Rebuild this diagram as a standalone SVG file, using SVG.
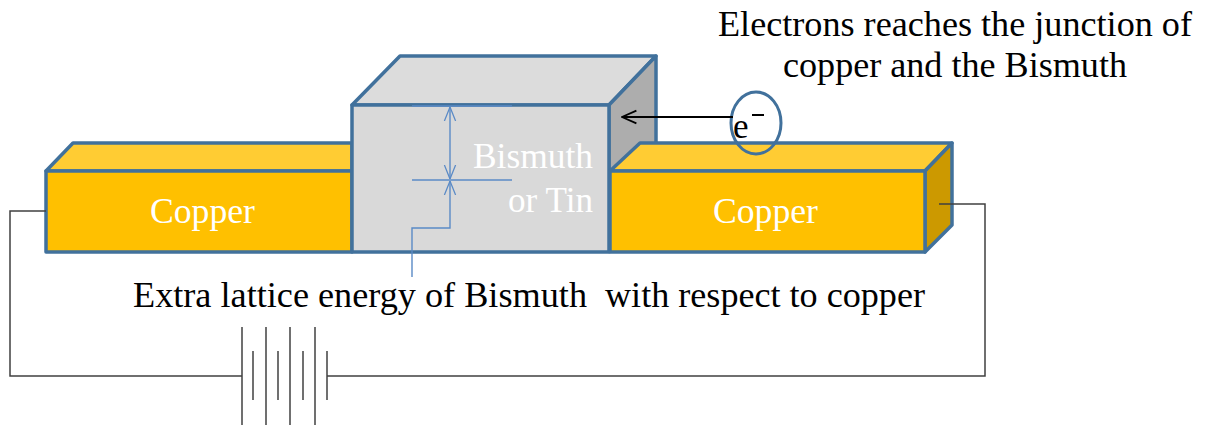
<svg xmlns="http://www.w3.org/2000/svg" width="1216" height="428" viewBox="0 0 1216 428">
<style>
.blk{stroke:#41719C;stroke-width:3.5;stroke-linejoin:round}
.cuF{fill:#FFC000}.cuT{fill:#FFCC33}.cuS{fill:#CC9900}
.biF{fill:#D9D9D9}.biT{fill:#DCDCDC}.biS{fill:#ADADAD}
.wire{fill:none;stroke:#404040;stroke-width:1.5}
.dim{fill:none;stroke:#5A8AC6;stroke-width:1.4}
.t{font-family:"Liberation Serif","Noto Serif","DejaVu Serif",Tinos,"Nimbus Roman","FreeSerif",Times,serif;font-size:35px}
.w{fill:#FFFFFF}
.k{fill:#000000}
</style>
<defs>
<marker id="vb" viewBox="0 0 20 20" refX="20" refY="10" markerWidth="14" markerHeight="14" markerUnits="userSpaceOnUse" orient="auto-start-reverse">
<path d="M0,2 L20,10 L0,18" fill="none" stroke="#5A8AC6" stroke-width="1.8"/>
</marker>
<marker id="ak" viewBox="0 0 20 20" refX="19" refY="10" markerWidth="16" markerHeight="16" markerUnits="userSpaceOnUse" orient="auto">
<path d="M1,2 L19,10 L1,18" fill="none" stroke="#000" stroke-width="2.2"/>
</marker>
</defs>

<g id="copper-left">
<polygon class="cuT blk" points="46,171 73,143 352,143 352,171"/>
<rect class="cuF blk" x="46" y="171" width="306" height="81"/>
<text class="t w" x="150" y="223" textLength="105" lengthAdjust="spacingAndGlyphs">Copper</text>
</g>

<g id="bismuth">
<polygon class="biT blk" points="352,105 400,56 656,56 609,105"/>
<polygon class="biS blk" points="609,105 656,56 656,150 609,197"/>
<rect class="biF blk" x="352" y="105" width="257" height="147"/>
<text class="t w" x="473" y="168" textLength="120" lengthAdjust="spacingAndGlyphs">Bismuth</text>
<text class="t w" x="508" y="212" textLength="85" lengthAdjust="spacingAndGlyphs">or Tin</text>
</g>

<g id="copper-right">
<polygon class="cuT blk" points="610,171 640,143 952,143 925,171"/>
<polygon class="cuS blk" points="925,171 952,143 952,225 925,252"/>
<rect class="cuF blk" x="610" y="171" width="315" height="81"/>
<text class="t w" x="713" y="223" textLength="105" lengthAdjust="spacingAndGlyphs">Copper</text>
</g>

<g id="electron">
<ellipse cx="756" cy="123" rx="25" ry="31" fill="none" stroke="#41719C" stroke-width="3"/>
<text class="t k" x="733" y="138">e</text>
<line x1="752" y1="115" x2="764" y2="115" stroke="#000" stroke-width="2"/>
</g>

<g id="labels">
<text class="t k" x="718" y="36" font-size="36" textLength="474" lengthAdjust="spacingAndGlyphs">Electrons reaches the junction of</text>
<text class="t k" x="783" y="77" font-size="36" textLength="344" lengthAdjust="spacingAndGlyphs">copper and the Bismuth</text>
<text class="t k" x="133" y="307" textLength="454" lengthAdjust="spacingAndGlyphs">Extra lattice energy of Bismuth</text>
<text class="t k" x="605" y="307" textLength="320" lengthAdjust="spacingAndGlyphs">with respect to copper</text>
</g>

<g id="connectors">
<line x1="733" y1="117" x2="622" y2="117" stroke="#000" stroke-width="2" marker-end="url(#ak)"/>
<line class="dim" x1="412" y1="106" x2="512" y2="106"/>
<line class="dim" x1="412" y1="180" x2="512" y2="180"/>
<line class="dim" x1="450" y1="107" x2="450" y2="179" marker-start="url(#vb)" marker-end="url(#vb)"/>
<polyline class="dim" points="412,277 412,228 450,228 450,181" marker-end="url(#vb)"/>
<polyline class="wire" points="46,211 10,211 10,376 242,376"/>
<polyline class="wire" points="939,204 985,204 985,376 327,376"/>
<g class="wire">
<line x1="242" y1="327" x2="242" y2="425"/>
<line x1="266" y1="327" x2="266" y2="425"/>
<line x1="290" y1="327" x2="290" y2="425"/>
<line x1="315" y1="327" x2="315" y2="425"/>
<line x1="253" y1="351" x2="253" y2="400"/>
<line x1="278" y1="351" x2="278" y2="400"/>
<line x1="303" y1="351" x2="303" y2="400"/>
<line x1="327" y1="351" x2="327" y2="400"/>
</g>
</g>
</svg>
